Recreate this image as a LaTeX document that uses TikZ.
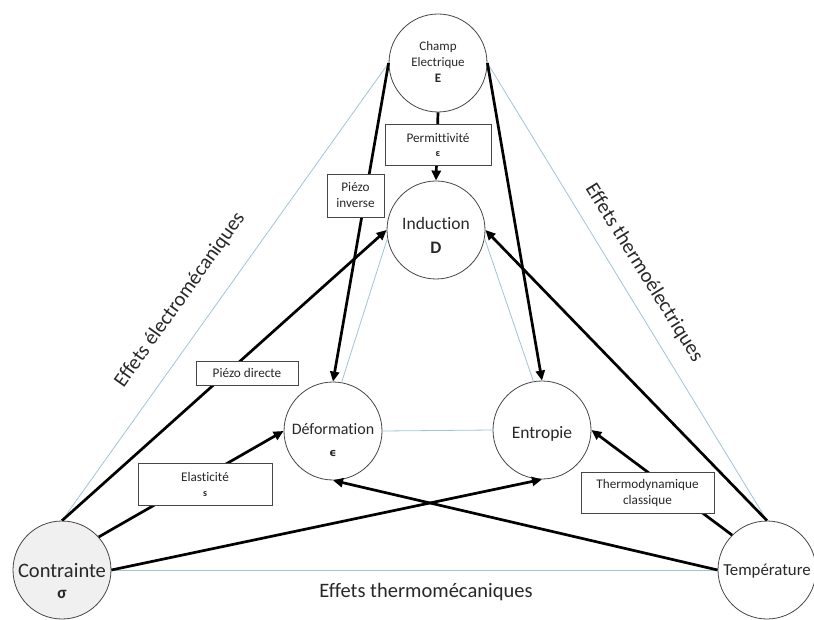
\documentclass[tikz,border=0pt]{standalone}
\usepackage{fontspec}
\setmainfont{Carlito}[Ligatures={NoCommon}]
\newfontfamily\djv{DejaVu Sans}
\usetikzlibrary{arrows.meta}
\definecolor{faintblue}{RGB}{160,196,212}
\definecolor{edgegray}{RGB}{70,70,70}
\definecolor{txt}{RGB}{40,40,40}
\begin{document}
\begin{tikzpicture}[x=1pt,y=-1pt,
  circ/.style={circle,draw=edgegray,line width=0.8pt,minimum size=98pt,inner sep=0pt},
  ctext/.style={align=center,text=txt,inner sep=0pt},
  lbl/.style={rectangle,draw=edgegray,line width=0.8pt,fill=white,inner sep=0pt,align=center,text=txt,font=\fontsize{13.2}{16}\selectfont},
  faint/.style={draw=faintblue,line width=0.8pt},
  heavy/.style={draw=black,line width=2.7pt},
  arr/.style={heavy,-{Triangle[length=10pt,width=9pt]}},
  effet/.style={text=txt,inner sep=0pt,font=\fontsize{20.5}{24}\selectfont},
]
\useasboundingbox (0,0) rectangle (814,620);

% circles
\node[circ] (champ) at (438,63) {};
\node[circ] (ind) at (436,230) {};
\node[circ] (def) at (333,431) {};
\node[circ] (ent) at (542,430) {};
\node[circ,fill=black!6] (con) at (62,570) {};
\node[circ] (temp) at (767,570) {};

% thin blue links
\draw[faint] (champ.west) -- (con.north);
\draw[faint] (champ.east) -- (temp.north);
\draw[faint] (con.east) -- (temp.west);
\draw[faint] (ind.190) -- (def.80);
\draw[faint] (ind.-10) -- (ent.100);
\draw[faint] (def.east) -- (ent.west);

% thick arrows
\draw[arr] (champ.south) -- (ind.north);
\draw[arr] (champ.west) -- (def.north);
\draw[arr] (champ.east) -- (ent.north);
\draw[arr] (con.north) -- (ind.west);
\draw[arr] (con.42) -- (def.west);
\draw[arr] (con.east) -- (ent.south);
\draw[arr] (temp.west) -- (def.south);
\draw[arr] (temp.135) -- (ent.east);
\draw[arr] (temp.north) -- (ind.east);

% labels on arrows
\node[lbl,minimum width=106pt,minimum height=41pt] (perm) at (438,144.5) {Permittivité\\[-2pt]{\fontsize{10}{12}\selectfont\bfseries ε}};
\node[lbl,minimum width=57pt,minimum height=43pt] (pinv) at (355.5,195.5) {Piézo\\inverse};
\node[lbl,minimum width=102pt,minimum height=24pt] (pdir) at (247,373) {Piézo directe};
\node[lbl,minimum width=134pt,minimum height=42pt] (elas) at (205,484) {Elasticité\\[-1pt]{\fontsize{10}{12}\selectfont\bfseries s}};
\node[lbl,minimum width=133pt,minimum height=41pt] (thermo) at (647.5,492.5) {Thermodynamique\\classique};

% circle texts
\node[ctext,font=\fontsize{13}{16}\selectfont] (champt) at (438,62) {Champ\\Electrique\\\textbf{E}};
\node[ctext,font=\fontsize{17.5}{24}\selectfont] (indt) at (436,235) {Induction\\\textbf{D}};
\node[ctext,font=\fontsize{16}{22}\selectfont] (deft) at (333,440) {Déformation\\{\djv\bfseries\fontsize{11}{12}\selectfont ϵ}};
\node[ctext,font=\fontsize{17.5}{20}\selectfont] (entt) at (542,434) {Entropie};
\node[ctext,font=\fontsize{20.5}{21}\selectfont] (cont) at (62,581) {Contrainte\\{\bfseries\fontsize{17}{18}\selectfont σ}};
\node[ctext,font=\fontsize{16.8}{20}\selectfont] (tempt) at (767,571) {Température};

% side captions
\node[effet,rotate=54.5] (eem) at (180,300) {Effets électromécaniques};
\node[effet,rotate=-58] (eth) at (644,273) {Effets thermoélectriques};
\node[effet] (etm) at (426,592) {Effets thermomécaniques};
\end{tikzpicture}
\end{document}
